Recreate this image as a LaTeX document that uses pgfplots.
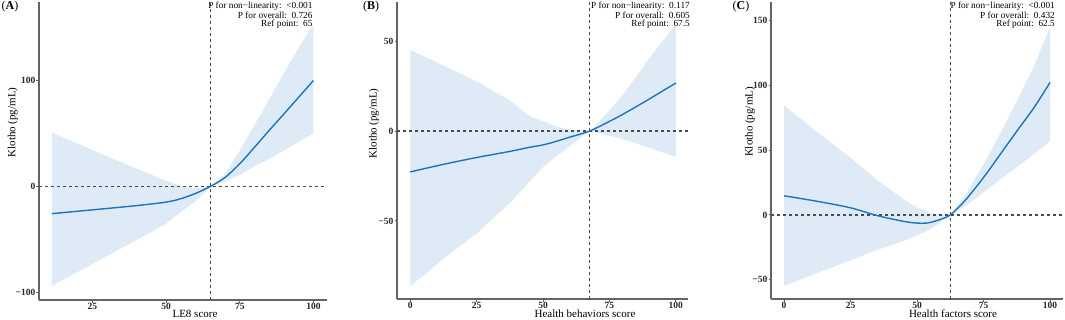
\documentclass[border=0pt]{standalone}
\usepackage{fontspec}
\setmainfont{Liberation Serif}
\usepackage{pgfplots}
\pgfplotsset{compat=1.18}
\definecolor{rib}{RGB}{222,235,247}
\definecolor{crv}{RGB}{28,117,188}
\definecolor{axg}{RGB}{100,100,100}
\definecolor{dsh}{RGB}{75,75,75}
\pgfplotsset{rcs/.style={
  scale only axis, anchor=south west,
  axis x line*=bottom, axis y line*=left,
  xtick pos=bottom, ytick pos=left,
  axis line style={draw=axg, line width=1.3pt},
  tick style={draw=axg, line width=1pt},
  tick align=outside, major tick length=2.5pt,
  ticklabel style={font=\fontsize{9.5}{10}\selectfont\bfseries, text=black!85},
  xticklabel style={inner sep=0.6pt},
  yticklabel style={inner sep=1pt},
}}
\tikzset{
  ribbon/.style={fill=rib, draw=none},
  refl/.style={draw=dsh, line width=1.3pt, dash pattern=on 3.3pt off 2.7pt},
  curve/.style={draw=crv, line width=1.4pt, smooth, tension=0.5},
}
\newcommand{\annot}[4]{%
  \node[anchor=east, inner sep=0pt, font=\fontsize{9.3}{9}\selectfont] at (#1pt,313pt) {P for non−linearity:\ \ #2};
  \node[anchor=east, inner sep=0pt, font=\fontsize{9.3}{9}\selectfont] at (#1pt,304pt) {P for overall:\ \ #3};
  \node[anchor=east, inner sep=0pt, font=\fontsize{9.3}{9}\selectfont] at (#1pt,295pt) {Ref point:\ \ #4};}
\begin{document}
\begin{tikzpicture}
\useasboundingbox (0pt,0pt) rectangle (1065pt,319pt);
% ---------------- Panel A ----------------
\begin{axis}[rcs, at={(39pt,19pt)}, width=288pt, height=298pt,
  xmin=6.9, xmax=104.6, ymin=-107, ymax=174,
  xtick={25,50,75,100}, xticklabels={25,50,75,100},
  ytick={-100,0,100}, yticklabels={−100,0,100}]
\addplot[ribbon] coordinates {
 (11.25,50.9) (20,40.5) (30,28.6) (40,17) (50,5.5) (55,0.5) (60,-1.5) (65,0)
 (70,12) (75,34) (80,58) (85,82.5) (90,107) (95,131) (100,153)
 (100,50) (95,42) (90,34) (85,26) (80,19) (75,11) (70,5) (65,0)
 (60,-14) (55,-24) (50,-35) (40,-50.5) (30,-65.5) (20,-80.5) (11.25,-93.7)};
\addplot[refl] coordinates {(65,-107) (65,174)};
\addplot[refl] coordinates {(6.9,0) (104.6,0)};
\addplot[curve] coordinates {
 (11.25,-25.6) (20,-23.3) (30,-20.7) (40,-18) (50,-14.7) (55,-11.5) (60,-6.5)
 (65,0) (70,8.5) (75,21.5) (80,37) (85,53) (90,68.5) (95,84.2) (100,100)};
\end{axis}
% ---------------- Panel B ----------------
\begin{axis}[rcs, at={(397pt,20pt)}, width=291pt, height=297pt,
  xmin=-5, xmax=104.6, ymin=-93.4, ymax=71.8,
  xtick={0,25,50,75,100}, xticklabels={0,25,50,75,100},
  ytick={-50,0,50}, yticklabels={−50,0,50}]
\addplot[ribbon] coordinates {
 (0,45.1) (12.5,36.5) (25,27.6) (37.5,17) (45,8.3) (50,5.5) (55,2.5) (60,0.8) (67.5,0)
 (70,3.5) (75,11.5) (80,20) (85,30) (90,40.5) (95,50) (100,59.5)
 (100,-14.4) (95,-11.8) (90,-9.3) (85,-6.8) (80,-4.5) (75,-2.5) (70,-0.8) (67.5,0)
 (60,-8.5) (55,-14) (50,-20) (37.5,-40) (25,-57) (12.5,-71) (0,-86.2)};
\addplot[refl] coordinates {(67.5,-93.4) (67.5,71.8)};
\addplot[refl] coordinates {(-5,0) (104.6,0)};
\addplot[curve] coordinates {
 (0,-22.7) (12.5,-18.5) (25,-14.7) (37.5,-11.3) (45,-9) (50,-7.7) (55,-5.7) (60,-3.4)
 (67.5,0) (75,5.4) (80,9.3) (85,13.5) (90,17.8) (95,22.3) (100,26.7)};
\end{axis}
% ---------------- Panel C ----------------
\begin{axis}[rcs, at={(771pt,20pt)}, width=292.3pt, height=297pt,
  xmin=-4.9, xmax=105, ymin=-65, ymax=164.6,
  xtick={0,25,50,75,100}, xticklabels={0,25,50,75,100},
  ytick={-50,0,50,100,150}, yticklabels={−50,0,50,100,150}]
\addplot[ribbon] coordinates {
 (0,84.7) (12.5,64) (25,44.2) (35,27) (45,12) (50,5.8) (55,1.5) (58,0.5) (62.5,0)
 (68,15) (75,39) (81,62) (87.5,87.8) (94,115) (100,145.4)
 (100,57) (94,47) (87.5,37) (81,27) (75,17.4) (68,6.5) (62.5,0)
 (58,-7) (55,-11) (50,-15.9) (45,-20) (35,-27) (25,-35) (12.5,-45) (0,-54.8)};
\addplot[refl] coordinates {(62.5,-65) (62.5,164.6)};
\addplot[refl] coordinates {(-4.9,0) (105,0)};
\addplot[curve] coordinates {
 (0,14.8) (12.5,10.5) (25,5.5) (35,-0.5) (45,-5) (50,-6.3) (54,-6.2) (58,-4)
 (62.5,0) (68,11) (75,28.9) (81,46) (87.5,64.7) (94,83) (100,102.4)};
\end{axis}
% ---------------- texts ----------------
\annot{312.7}{<0.001}{0.726}{65}
\annot{690}{0.117}{0.605}{67.5}
\annot{1055}{<0.001}{0.432}{62.5}
\node[font=\fontsize{12}{12}\selectfont] at (10pt,312pt) {(\textbf{A})};
\node[font=\fontsize{12}{12}\selectfont] at (371pt,312pt) {(\textbf{B})};
\node[font=\fontsize{12}{12}\selectfont] at (741pt,312pt) {(\textbf{C})};
\node[anchor=base, font=\fontsize{11}{11}\selectfont, inner sep=0pt] at (195pt,1.5pt) {LE8 score};
\node[anchor=base, font=\fontsize{11}{11}\selectfont, inner sep=0pt] at (585pt,1.5pt) {Health behaviors score};
\node[anchor=base, font=\fontsize{11}{11}\selectfont, inner sep=0pt] at (953pt,1.5pt) {Health factors score};
\node[rotate=90, font=\fontsize{11}{11}\selectfont, inner sep=0pt] at (12.7pt,196.5pt) {Klotho (pg/mL)};
\node[rotate=90, font=\fontsize{11}{11}\selectfont, inner sep=0pt] at (374pt,195.5pt) {Klotho (pg/mL)};
\node[rotate=90, font=\fontsize{11}{11}\selectfont, inner sep=0pt] at (750pt,197pt) {Klotho (pg/mL)};
\end{tikzpicture}
\end{document}
